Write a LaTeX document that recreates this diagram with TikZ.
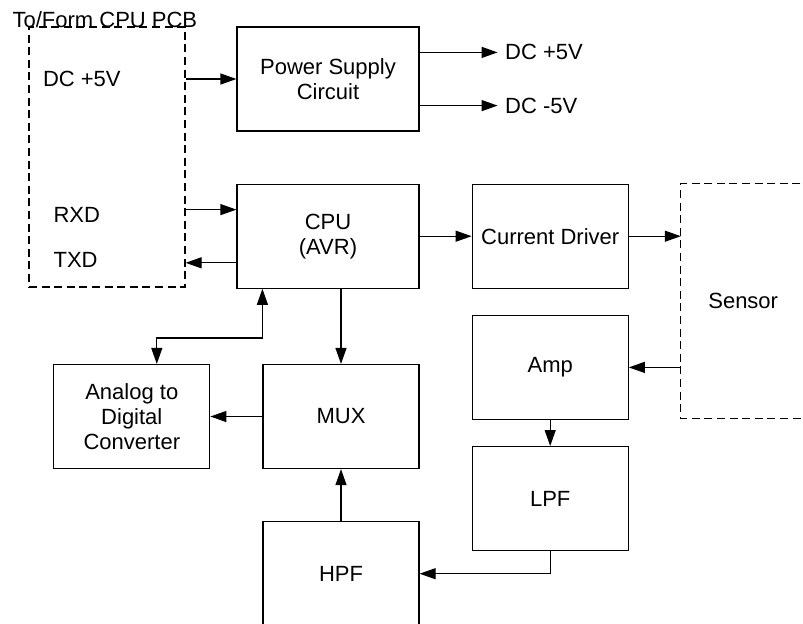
\documentclass[tikz,border=0pt]{standalone}
\usepackage{fontspec}
\setmainfont{Liberation Sans}
\usetikzlibrary{arrows.meta,positioning}

\begin{document}
\begin{tikzpicture}[x=0.5pt, y=-0.5pt,
  node distance=26pt,
  every node/.style={font=\fontsize{11}{12.5}\selectfont},
  box/.style={draw, line width=0.6pt, align=center, inner sep=0pt,
              minimum width=78pt, minimum height=52pt},
  dbox/.style={draw, dash pattern=on 4pt off 2.3pt, line width=0.6pt,
               minimum width=78pt, minimum height=130pt},
  lbl/.style={inner sep=3.6pt},
  arr/.style={line width=0.6pt, -{Triangle[length=8pt, width=5.5pt]}},
  dbl/.style={line width=0.6pt, {Triangle[length=8pt, width=5.5pt]}-{Triangle[length=8pt, width=5.5pt]}}]
\useasboundingbox (0,0) rectangle (803,623);
% boxes
\node[box, minimum width=91pt] (power) at (328,79) {Power Supply\\Circuit};
\node[box, minimum width=91pt, below=of power] (cpu) {CPU\\(AVR)};
\node[box, right=of cpu] (drv) {Current Driver};
\node[box, below=13pt of drv] (amp) {Amp};
\node[box, below=13pt of amp] (lpf) {LPF};
\node[box] (mux) at (341,416.5) {MUX};
\node[box, below=of mux] (hpf) {HPF};
\node[box, left=of mux] (adc) {Analog to\\Digital\\Converter};
% dashed outside parts
\node[dbox] (pcb) at (107,157) {};
\node[lbl, anchor=base west] (pcbtitle) at (5,27) {To/Form CPU PCB};
\node[lbl, anchor=west] (pcbdc) at ([xshift=3.5pt]pcb.west |- power) {DC +5V};
\node[lbl, anchor=west] (rxd) at (46,215) {RXD};
\node[lbl, anchor=west] (txd) at (46,260) {TXD};
\node[minimum width=62pt, minimum height=117pt, inner sep=0pt,
      right=of drv.north east, anchor=north west] (sensor) {Sensor};
\draw[dash pattern=on 4pt off 2.3pt, line width=0.6pt]
  ([xshift=10pt]sensor.north east) -- (sensor.north west)
  -- (sensor.south west) -- ([xshift=10pt]sensor.south east);
% power rails
\coordinate (p5) at ([yshift=-13pt]power.north east);
\coordinate (m5) at ([yshift=13pt]power.south east);
\node[lbl, anchor=west, right=39pt of p5] (vpos) {DC +5V};
\node[lbl, anchor=west, right=39pt of m5] (vneg) {DC -5V};
\draw[arr] (pcb.east |- power) -- (power.west);
\draw[arr] (p5) -- (vpos.west);
\draw[arr] (m5) -- (vneg.west);
% serial lines
\coordinate (rx) at ([yshift=-13pt]cpu.north west);
\coordinate (tx) at ([yshift=13pt]cpu.south west);
\draw[arr] (pcb.east |- rx) -- (rx);
\draw[arr] (tx) -- (pcb.east |- tx);
% signal path
\draw[arr] (cpu) -- (drv);
\draw[arr] (drv.east) -- (drv.east -| sensor.west);
\draw[arr] (sensor.west |- amp) -- (amp.east);
\draw[arr] (amp) -- (lpf);
\draw[arr] (lpf.south) |- (hpf.east);
\draw[arr] (hpf) -- (mux);
\draw[arr] (cpu.south -| mux) -- (mux.north);
\draw[arr] (mux) -- (adc);
\draw[dbl] ([xshift=12.5pt]adc.north) -- ++(0pt,13pt) -| ([xshift=13pt]cpu.south west);
\end{tikzpicture}
\end{document}
